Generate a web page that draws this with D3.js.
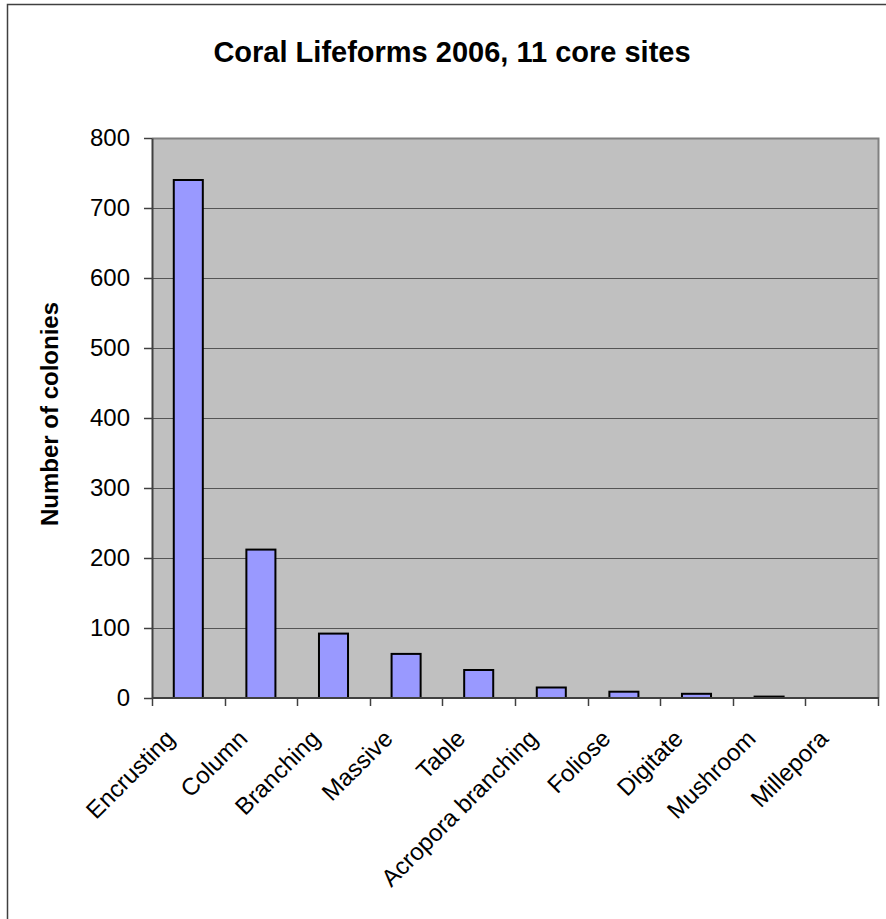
<!DOCTYPE html>
<html>
<head>
<meta charset="utf-8">
<script src="https://cdn.jsdelivr.net/npm/d3@7"></script>
<style>
  html, body { margin: 0; padding: 0; background: #fff; }
  svg { display: block; font-family: "Liberation Sans", Arial, sans-serif; }
</style>
</head>
<body>
<script>
// Coral lifeform colony counts across the 11 core sites, 2006
const categories = ["Encrusting", "Column", "Branching", "Massive", "Table",
  "Acropora branching", "Foliose", "Digitate", "Mushroom", "Millepora"];
const colonies = [740, 212, 92, 63, 40, 15, 9, 6, 2, 0];
const yTicks = [0, 100, 200, 300, 400, 500, 600, 700, 800];

const W = 886, H = 919;
const plot = { left: 152, right: 878, top: 138, bottom: 698 };
const labelSize = 24;

const svg = d3.select("body").append("svg")
  .attr("width", W).attr("height", H);

// chart frame
svg.append("rect")
  .attr("x", 7.5).attr("y", 4.5)
  .attr("width", W + 10).attr("height", H + 10)
  .attr("fill", "#fff").attr("stroke", "#404040").attr("stroke-width", 1.5);

const x = d3.scaleBand().domain(categories)
  .range([plot.left, plot.right]).paddingInner(0.6).paddingOuter(0.3);
const xCat = d3.scaleBand().domain(categories).range([plot.left, plot.right]);
const y = d3.scaleLinear().domain([0, 800]).range([plot.bottom, plot.top]);

// plot area
svg.append("rect")
  .attr("x", plot.left).attr("y", plot.top)
  .attr("width", plot.right - plot.left).attr("height", plot.bottom - plot.top)
  .attr("fill", "#C0C0C0");

// horizontal gridlines
svg.append("g").selectAll("line")
  .data(yTicks.filter(d => d > 0 && d < 800))
  .join("line")
  .attr("x1", plot.left).attr("x2", plot.right)
  .attr("y1", d => Math.round(y(d)) + 0.5).attr("y2", d => Math.round(y(d)) + 0.5)
  .attr("stroke", "#555").attr("stroke-width", 1);

// plot border (top and right)
svg.append("path")
  .attr("d", `M${plot.left},${plot.top + 0.5}H${plot.right + 0.5}V${plot.bottom}`)
  .attr("fill", "none").attr("stroke", "#808080").attr("stroke-width", 2);

// bars
svg.append("g").selectAll("rect")
  .data(categories.map((c, i) => ({ c, v: colonies[i] })).filter(d => d.v > 0))
  .join("rect")
  .attr("x", d => x(d.c))
  .attr("y", d => y(d.v))
  .attr("width", x.bandwidth())
  .attr("height", d => y(0) - y(d.v))
  .attr("fill", "#9999FF")
  .attr("stroke", "#000").attr("stroke-width", 2);

// y axis
const yAxis = svg.append("g")
  .attr("transform", `translate(${plot.left},0)`)
  .call(d3.axisLeft(y).tickValues(yTicks).tickSize(8).tickPadding(14).tickSizeOuter(0));
yAxis.select(".domain").attr("stroke", "#404040").attr("stroke-width", 2);
yAxis.selectAll(".tick line").attr("stroke", "#404040").attr("stroke-width", 1.5);
yAxis.selectAll(".tick text")
  .attr("font-size", labelSize).attr("fill", "#000")
  .attr("font-family", "Liberation Sans, Arial, sans-serif");

// x axis with ticks on category boundaries
const xAxisG = svg.append("g").attr("transform", `translate(0,${plot.bottom})`);
xAxisG.append("line")
  .attr("x1", plot.left).attr("x2", plot.right + 1)
  .attr("stroke", "#404040").attr("stroke-width", 2);
const boundaries = categories.map(c => xCat(c)).concat([plot.right]);
xAxisG.selectAll("line.tick")
  .data(boundaries)
  .join("line").attr("class", "tick")
  .attr("x1", d => Math.round(d) + 0.5).attr("x2", d => Math.round(d) + 0.5)
  .attr("y1", 0).attr("y2", 8)
  .attr("stroke", "#404040").attr("stroke-width", 1.5);

xAxisG.selectAll("text")
  .data(categories)
  .join("text")
  .attr("transform", d => `translate(${xCat(d) + xCat.bandwidth() / 2 - 12},${42}) rotate(-45)`)
  .attr("text-anchor", "end")
  .attr("font-size", labelSize)
  .attr("fill", "#000")
  .text(d => d);

// title
svg.append("text")
  .attr("x", 452).attr("y", 62)
  .attr("text-anchor", "middle")
  .attr("font-size", 29).attr("font-weight", "bold")
  .text("Coral Lifeforms 2006, 11 core sites");

// y axis title
svg.append("text")
  .attr("transform", `translate(58,414) rotate(-90)`)
  .attr("text-anchor", "middle")
  .attr("font-size", 24).attr("font-weight", "bold")
  .text("Number of colonies");
</script>
</body>
</html>
